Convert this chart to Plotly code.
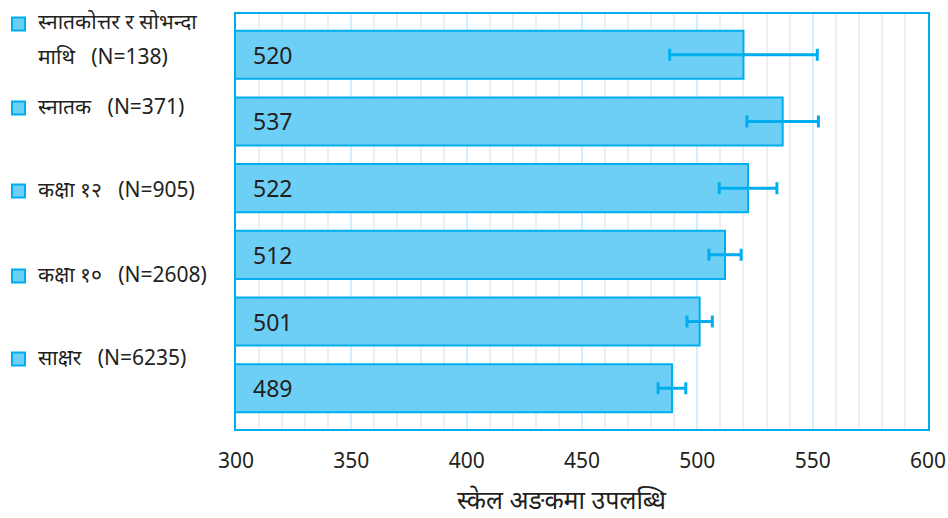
import plotly.graph_objects as go

# data
scores = [520, 537, 522, 512, 501, 489]
errors = [32, 15.5, 12.5, 7, 5.5, 6]
positions = [0, 1, 2, 3, 4, 5]
group_labels = ["स्नातकोत्तर र सोभन्दा", "स्नातक", "कक्षा १२", "कक्षा १०", "साक्षर"]
group_n = [138, 371, 905, 2608, 6235]
x_title = "स्केल अङकमा उपलब्धि"
x_ticks = [300, 350, 400, 450, 500, 550, 600]

BLUE = "#00AEEF"
FILL = "#6DCFF6"
FONT = "Noto Sans, Noto Sans Devanagari, Lohit Devanagari, FreeSans, sans-serif"

fig = go.Figure()
fig.add_trace(go.Bar(
    x=scores, y=positions, orientation="h", width=0.72,
    marker=dict(color=FILL, line=dict(color=BLUE, width=2)),
    error_x=dict(type="data", array=errors, color=BLUE, thickness=3, width=6),
    showlegend=False, hoverinfo="x",
))

# value labels inside bars
for s, p in zip(scores, positions):
    fig.add_annotation(x=300, y=p, text=str(s), xanchor="left", xshift=15,
                       showarrow=False, font=dict(size=23, color="#231F20", family=FONT))

# legend-like group labels on the left
H0, H = 14, 415
def py(px):
    return (H0 + H - px) / H

label_px = [24, 108, 191, 276, 359]
LFS = 21
for i, (lab, n) in enumerate(zip(group_labels, group_n)):
    ypx = label_px[i]
    fig.add_shape(type="rect", xref="paper", yref="paper",
                  x0=(12 - 236) / 692, x1=(25 - 236) / 692,
                  y0=py(ypx + 6.5), y1=py(ypx - 6.5),
                  fillcolor=FILL, line=dict(color=BLUE, width=2))
    if i == 0:
        fig.add_annotation(xref="paper", yref="paper", x=(36 - 236) / 692, y=py(ypx - 3),
                           text=lab, xanchor="left", yanchor="middle", showarrow=False,
                           font=dict(size=LFS, color="#231F20", family=FONT))
        fig.add_annotation(xref="paper", yref="paper", x=(36 - 236) / 692, y=py(ypx + 32),
                           text="माथि   (N=%d)" % n, xanchor="left", yanchor="middle", showarrow=False,
                           font=dict(size=LFS, color="#231F20", family=FONT))
    else:
        fig.add_annotation(xref="paper", yref="paper", x=(36 - 236) / 692, y=py(ypx - 2),
                           text="%s   (N=%d)" % (lab, n), xanchor="left", yanchor="middle", showarrow=False,
                           font=dict(size=LFS, color="#231F20", family=FONT))

# x-axis title
fig.add_annotation(xref="paper", yref="paper", x=(562 - 236) / 692, y=py(499),
                   text=x_title, xanchor="center", yanchor="middle", showarrow=False,
                   font=dict(size=25, color="#231F20", family=FONT))

fig.update_layout(
    width=948, height=518,
    margin=dict(l=236, r=20, t=14, b=89),
    plot_bgcolor="white", paper_bgcolor="white",
    font=dict(family=FONT, color="#231F20"),
    xaxis=dict(range=[300, 600], tickvals=x_ticks, tickfont=dict(size=21),
               automargin=False, ticklabelstandoff=12,
               showgrid=True, gridcolor="#D5EEFB", gridwidth=1.5,
               minor=dict(dtick=10, showgrid=True, gridcolor="#EFEFEF", gridwidth=1.5),
               showline=True, mirror=True, linecolor=BLUE, linewidth=2,
               ticks="", zeroline=False),
    yaxis=dict(range=[5.61, -0.61], showticklabels=False, showgrid=False,
               automargin=False,
               showline=True, mirror=True, linecolor=BLUE, linewidth=2,
               zeroline=False, ticks=""),
)

fig.write_html("out.html", config={"displayModeBar": False},
               post_script="document.body.style.margin='0';document.body.style.padding='0';")
